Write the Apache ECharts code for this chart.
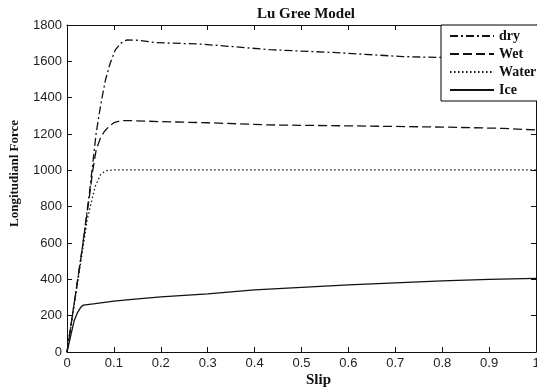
<!DOCTYPE html>
<html>
<head>
<meta charset="utf-8">
<script src="https://cdn.jsdelivr.net/npm/echarts@6/dist/echarts.min.js"></script>
<style>html,body{margin:0;padding:0;background:#fff}#c{width:537px;height:390px}</style>
</head>
<body>
<div id="c"></div>
<script>
const seriesNames = ['dry', 'Wet', 'Water', 'Ice'];
const slipDry  = [0, 0.032, 0.04, 0.048, 0.055, 0.062, 0.068, 0.075, 0.082, 0.092, 0.103, 0.115, 0.128, 0.15, 0.19, 0.284, 0.354, 0.433, 0.575, 0.716, 0.79, 0.9, 1.0];
const forceDry = [0, 560, 720, 880, 1040, 1200, 1300, 1405, 1497, 1589, 1663, 1700, 1718, 1716, 1703, 1695, 1681, 1664, 1648, 1626, 1622, 1614, 1605];
const slipWet  = [0, 0.032, 0.04, 0.048, 0.055, 0.062, 0.071, 0.08, 0.089, 0.1, 0.115, 0.13, 0.2, 0.3, 0.43, 0.6, 0.8, 0.93, 1.0];
const forceWet = [0, 560, 710, 860, 1000, 1110, 1176, 1215, 1240, 1262, 1273, 1274, 1268, 1262, 1250, 1245, 1238, 1231, 1222];
const slipWater  = [0, 0.032, 0.043, 0.053, 0.06, 0.071, 0.082, 0.1, 0.5, 1.0];
const forceWater = [0, 540, 727, 837, 910, 974, 998, 1002, 1002, 1002];
const slipIce  = [0, 0.015, 0.022, 0.03, 0.035, 0.06, 0.1, 0.139, 0.2, 0.3, 0.4, 0.5, 0.6, 0.7, 0.8, 0.9, 1.0];
const forceIce = [0, 170, 215, 248, 258, 266, 280, 290, 303, 320, 342, 356, 369, 381, 391, 400, 405];
const xTicks = [0, 0.1, 0.2, 0.3, 0.4, 0.5, 0.6, 0.7, 0.8, 0.9, 1];
const yTicks = [0, 200, 400, 600, 800, 1000, 1200, 1400, 1600, 1800];

const pair = (xs, ys) => xs.map((x, i) => [x, ys[i]]);
const serif = '"Liberation Serif", "Times New Roman", serif';
const sans = '"Liberation Sans", Arial, sans-serif';
const ink = '#111';

const chart = echarts.init(document.getElementById('c'), null, {renderer: 'canvas'});
const axisCommon = () => ({
  axisLine: {show: true, onZero: false, lineStyle: {color: ink, width: 1}},
  axisTick: {show: true, inside: true, length: 5, lineStyle: {color: ink, width: 1}},
  splitLine: {show: false}
});
const lineSeries = (name, data, type, xi) => ({
  name, type: 'line', data, symbol: 'none', smooth: false,
  lineStyle: {color: ink, width: 1.3, type},
  itemStyle: {color: ink},
  z: 2
});
const xLabelFmt = v => { const t = xTicks.find(k => Math.abs(k - v) < 1e-6); return t === undefined ? '' : String(t); };
const yLabelFmt = v => { const t = yTicks.find(k => Math.abs(k - v) < 1e-6); return t === undefined ? '' : String(t); };
chart.setOption({
  animation: false,
  backgroundColor: '#fff',
  title: {
    text: 'Lu Gree Model', left: 301, top: 2, textAlign: 'center',
    textStyle: {fontFamily: serif, fontWeight: 'bold', fontSize: 15, color: ink}
  },
  grid: {left: 67, right: 1, top: 25, bottom: 38, containLabel: false, outerBoundsMode: 'none'},
  legend: {
    data: seriesNames, orient: 'vertical', left: 441, top: 25,
    padding: [4, 6, 4, 8], itemWidth: 44, itemHeight: 14, itemGap: 4,
    borderColor: '#000', borderWidth: 1, backgroundColor: '#fff',
    itemStyle: {opacity: 0},
    textStyle: {fontFamily: serif, fontWeight: 'bold', fontSize: 14, color: ink},
    z: 10
  },
  xAxis: [
    Object.assign({type: 'value', min: 0, max: 1, interval: 0.1, position: 'bottom',
      axisLabel: {show: true, color: '#222', fontFamily: sans, fontSize: 13, margin: 5, formatter: xLabelFmt}
    }, axisCommon()),
    Object.assign({type: 'value', min: 0, max: 1, interval: 0.1, position: 'top',
      axisLabel: {show: false}}, axisCommon())
  ],
  yAxis: [
    Object.assign({type: 'value', min: 0, max: 1800, interval: 200, position: 'left',
      axisLabel: {show: true, color: '#222', fontFamily: sans, fontSize: 13, margin: 5, formatter: yLabelFmt}
    }, axisCommon()),
    Object.assign({type: 'value', min: 0, max: 1800, interval: 200, position: 'right',
      axisLabel: {show: false}}, axisCommon())
  ],
  graphic: [
    {type: 'text', left: 306, top: 373, style: {text: 'Slip', font: 'bold 15px ' + serif, fill: ink}},
    {type: 'text', rotation: Math.PI / 2, x: 8, y: 227, style: {text: 'Longitudianl Force', font: 'bold 13px ' + serif, fill: ink, align: 'left', verticalAlign: 'top'}}
  ],
  series: [
    lineSeries('dry', pair(slipDry, forceDry), [8, 3, 2, 3]),
    lineSeries('Wet', pair(slipWet, forceWet), [9, 4]),
    lineSeries('Water', pair(slipWater, forceWater), [1.5, 2.5]),
    lineSeries('Ice', pair(slipIce, forceIce), 'solid')
  ]
});
</script>
</body>
</html>
